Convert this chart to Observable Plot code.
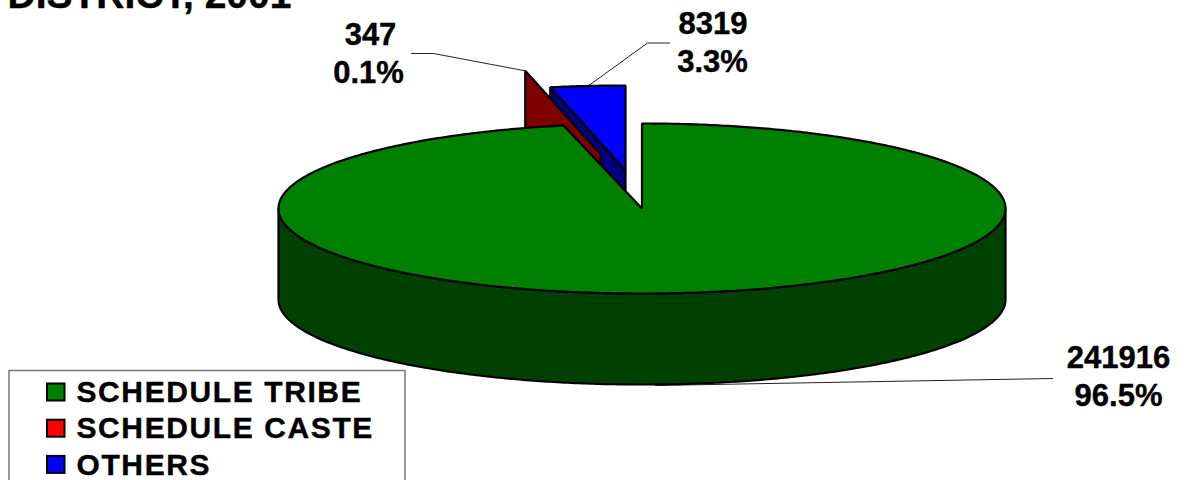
<!DOCTYPE html>
<html><head><meta charset="utf-8">
<script src="https://cdn.jsdelivr.net/npm/d3@7"></script>
<script src="https://cdn.jsdelivr.net/npm/@observablehq/plot@0.6"></script>
<style>html,body{margin:0;padding:0;background:#fff;overflow:hidden}svg{display:block}
.legend-text text{letter-spacing:1.6px}</style>
</head><body><div id="chart"></div>
<script>
const categories = ["SCHEDULE TRIBE", "SCHEDULE CASTE", "OTHERS"];
const values = [241916, 347, 8319];
const percents = ["96.5%", "0.1%", "3.3%"];
const titleText = "DISTRICT, 2001";

const topColors = ["#008000", "#ff0000", "#0000ff"];
const sideColors = ["#004000", "#800000", "#000080"];

// layout of the projected pie
const W = 1184, H = 480;
const cx = 641.5, cy = 208, rx = 363.5, ry = 85, depth = 91;
const explode = [[0, 0], [-41.5, -54.5], [-16.5, -38]];

const total = d3.sum(values);
let acc = 0;
const slices = values.map((v, i) => {
  const a0 = acc / total * 2 * Math.PI; acc += v;
  const a1 = acc / total * 2 * Math.PI;
  return {i, a0, a1, ox: cx + explode[i][0], oy: cy + explode[i][1]};
});
const rim = (s, a, d = 0) => ({x: s.ox + rx * Math.sin(a), y: s.oy - ry * Math.cos(a) + d});
const arc = (s, a0, a1, d = 0) => {
  const n = Math.max(2, Math.ceil(Math.abs(a1 - a0) / 0.01));
  return d3.range(n + 1).map(k => rim(s, a0 + (a1 - a0) * k / n, d));
};
const topFace = s => [{x: s.ox, y: s.oy}, ...arc(s, s.a0, s.a1)];
const cutWall = (s, a) => [{x: s.ox, y: s.oy}, rim(s, a), rim(s, a, depth), {x: s.ox, y: s.oy + depth}];
const frontWall = s => [...arc(s, Math.PI / 2, 3 * Math.PI / 2), ...arc(s, 3 * Math.PI / 2, Math.PI / 2, depth)];
const [green, red, blue] = slices;

const poly = (pts, fill) => Plot.line(pts, {x: "x", y: "y", fill, stroke: "#000", strokeWidth: 2.2, curve: "linear-closed", strokeLinejoin: "miter"});
const leader = pts => Plot.line(pts, {x: "x", y: "y", stroke: "#222", strokeWidth: 1});
const boldText = {fontFamily: "Liberation Sans, Arial, sans-serif", fontWeight: "bold", fill: "#000", stroke: "#000", strokeWidth: 0.4};

// layout of labels, legend and leader lines
const labels = [
  {x: 1118, y: 358, t: String(values[0])}, {x: 1118, y: 396, t: percents[0]},
  {x: 370, y: 35, t: String(values[1])}, {x: 368, y: 72.5, t: percents[1]},
  {x: 712.5, y: 24, t: String(values[2])}, {x: 712, y: 62, t: percents[2]}
];
const legendRows = categories.map((c, i) => ({c, i, y: 392 + i * 36.2}));

const chart = Plot.plot({
  width: W, height: H, margin: 0,
  x: {type: "linear", domain: [0, W], range: [0, W], axis: null},
  y: {type: "linear", domain: [0, H], range: [0, H], axis: null},
  marks: [
    leader([{x: 411, y: 53}, {x: 433, y: 53}, rim(red, red.a1)]),
    leader([{x: 669, y: 42.5}, {x: 647, y: 42.5}, {x: 587, y: 86}]),
    leader([{x: 1052, y: 378}, {x: 655, y: 385}]),
    // blue: side then top, then the red sliver's wall, then the main slice
    poly(cutWall(blue, blue.a0), sideColors[2]),
    poly(topFace(blue), topColors[2]),
    poly(cutWall(red, red.a1), sideColors[1]),
    poly(frontWall(green), sideColors[0]),
    poly(topFace(green), topColors[0]),
    Plot.text(labels, {x: "x", y: "y", text: "t", fontSize: 31, ...boldText}),
    Plot.text([titleText], {x: () => 7, y: () => -5, text: d => d, textAnchor: "start", fontSize: 39, ...boldText}),
    Plot.rect([{}], {x1: () => 9, x2: () => 405, y1: () => 370.5, y2: () => 500, fill: "#fff", stroke: "#777", strokeWidth: 1.5}),
    Plot.rect(legendRows, {x1: () => 47, x2: () => 64.5, y1: d => d.y - 8.5, y2: d => d.y + 8.5, fill: d => topColors[d.i], stroke: "#000", strokeWidth: 2}),
    Plot.text(legendRows, {x: () => 76, y: "y", text: "c", textAnchor: "start", fontSize: 30, className: "legend-text", ...boldText})
  ]
});
document.getElementById("chart").append(chart);
</script></body></html>
